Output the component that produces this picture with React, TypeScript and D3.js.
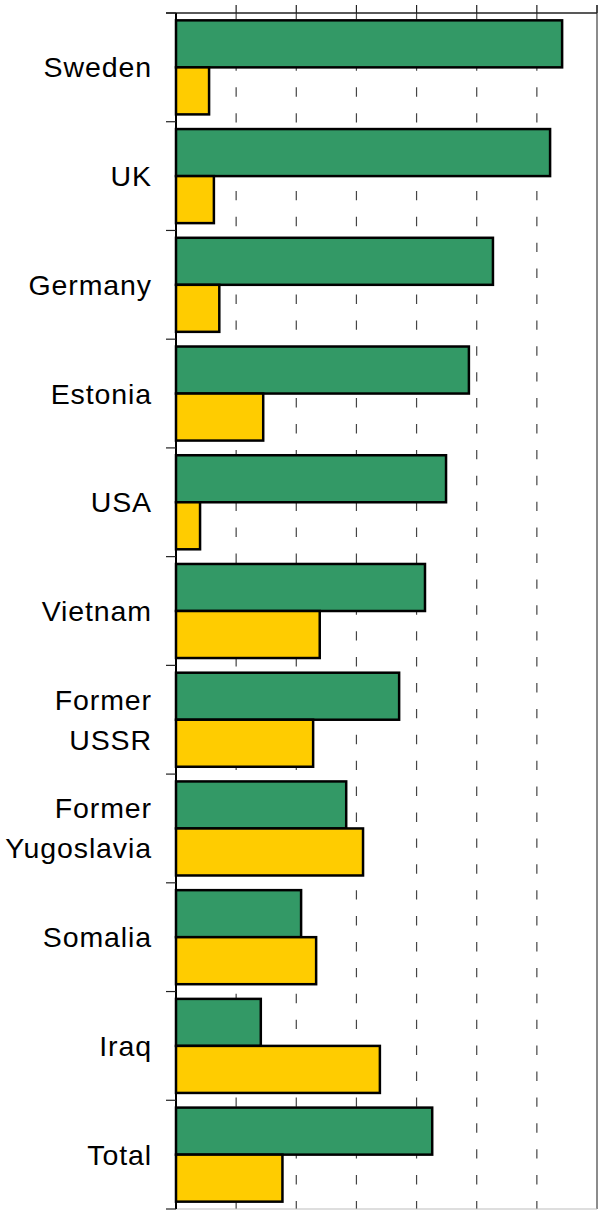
import React from 'react';
import * as d3 from 'd3';

// categories top to bottom
const countries = [
  'Sweden', 'UK', 'Germany', 'Estonia', 'USA', 'Vietnam',
  'Former USSR', 'Former Yugoslavia', 'Somalia', 'Iraq', 'Total'
];
// green series (upper bar in each group)
const seriesA = [64.2, 62.2, 52.7, 48.7, 44.9, 41.4, 37.1, 28.3, 20.8, 14.1, 42.6];
// yellow series (lower bar)
const seriesB = [5.5, 6.3, 7.2, 14.5, 4.0, 23.9, 22.8, 31.1, 23.3, 33.9, 17.7];
const gridTicks = [0, 10, 20, 30, 40, 50, 60, 70];

const W = 616;
const H = 1210;
const margin = { top: 13, right: 19, bottom: 1, left: 176 };

const App: React.FC = () => {
  const x = d3.scaleLinear()
    .domain([0, 70])
    .range([margin.left, W - margin.right]);

  const y = d3.scaleBand<string>()
    .domain(countries)
    .range([margin.top, H - margin.bottom])
    .paddingInner(0)
    .paddingOuter(0);

  const inner = d3.scaleBand<string>()
    .domain(['a', 'b'])
    .range([0, y.bandwidth()])
    .paddingInner(0)
    .paddingOuter(0.156);

  const top = margin.top;
  const bottom = H - margin.bottom;
  const left = x(0);
  const right = x(70);

  // split long labels on two lines
  const labelLines = (c: string) => (c.startsWith('Former ') ? ['Former', c.slice(7)] : [c]);

  const boundaries = countries.map(c => y(c) as number).concat([bottom]);

  return (
    <svg
      width={W}
      height={H}
      style={{ position: 'absolute', left: 0, top: 0, background: '#fff' }}
      fontFamily="'Liberation Sans', Arial, sans-serif"
    >
      {/* dashed gridlines */}
      {gridTicks.slice(1, -1).map(t => (
        <line
          key={'g' + t}
          x1={x(t)} x2={x(t)} y1={top} y2={bottom}
          stroke="#444" strokeWidth={1.2}
          strokeDasharray="9.4,16.5" strokeDashoffset={3.4}
        />
      ))}

      {/* plot border right / bottom */}
      <line x1={right} x2={right} y1={5} y2={bottom} stroke="#8c8c8c" strokeWidth={2} />
      <line x1={left} x2={right} y1={bottom} y2={bottom} stroke="#bdbdbd" strokeWidth={1} />

      {/* bars */}
      {countries.map((c, i) => {
        const y0 = y(c) as number;
        return (
          <g key={c}>
            <rect
              x={left}
              y={y0 + (inner('a') as number)}
              width={x(seriesA[i]) - left}
              height={inner.bandwidth()}
              fill="#339966" stroke="#000" strokeWidth={2.5}
            />
            <rect
              x={left}
              y={y0 + (inner('b') as number)}
              width={x(seriesB[i]) - left}
              height={inner.bandwidth()}
              fill="#ffcc00" stroke="#000" strokeWidth={2.5}
            />
          </g>
        );
      })}

      {/* top axis */}
      <line x1={166} x2={right} y1={top} y2={top} stroke="#222" strokeWidth={1.5} />
      {gridTicks.slice(1).map(t => (
        <line key={'t' + t} x1={x(t)} x2={x(t)} y1={5} y2={top} stroke="#222" strokeWidth={1.2} />
      ))}

      {/* left axis */}
      <line x1={left} x2={left} y1={top} y2={bottom} stroke="#000" strokeWidth={2} />
      {boundaries.map((b, i) => (
        <line key={'l' + i} x1={166} x2={left} y1={b} y2={b} stroke="#222" strokeWidth={1.2} />
      ))}

      {/* category labels */}
      {countries.map(c => {
        const cy = (y(c) as number) + y.bandwidth() / 2;
        const lines = labelLines(c);
        return (
          <text key={'lab' + c} x={152} textAnchor="end" fontSize={28.5} letterSpacing={0.9} fill="#000">
            {lines.map((l, j) => (
              <tspan key={j} x={152} y={cy + 10 + (j - (lines.length - 1) / 2) * 40}>{l}</tspan>
            ))}
          </text>
        );
      })}
    </svg>
  );
};

export default App;
